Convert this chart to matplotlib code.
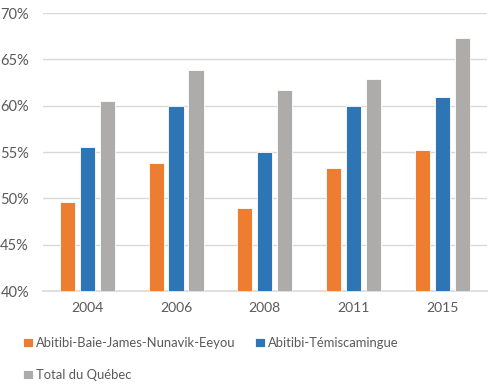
import matplotlib.pyplot as plt
import numpy as np
from matplotlib.ticker import PercentFormatter

years = ['2004', '2006', '2008', '2011', '2015']
abitibi_nunavik = [49.6, 53.8, 49.0, 53.3, 55.2]
abitibi_temis = [55.5, 60.0, 55.0, 60.0, 61.0]
total_quebec = [60.5, 63.9, 61.7, 62.9, 67.3]

series = [
    ('Abitibi-Baie-James-Nunavik-Eeyou', abitibi_nunavik, '#ED7D31'),
    ('Abitibi-Témiscamingue', abitibi_temis, '#2E75B6'),
    ('Total du Québec', total_quebec, '#AEABAB'),
]

plt.rcParams['font.family'] = ['Lato', 'DejaVu Sans']

fig = plt.figure(figsize=(5.04, 3.86), dpi=100)
ax = fig.add_axes([0.085, 0.246, 0.881, 0.72])

x = np.arange(len(years))
w = 0.17
step = 0.225
bars = []
for i, (name, vals, col) in enumerate(series):
    b = ax.bar(x + (i - 1) * step, vals, width=w, color=col, label=name,
               edgecolor='white', linewidth=0.6, zorder=3)
    bars.append(b)

ax.set_ylim(40, 70)
ax.set_xlim(-0.5, len(years) - 0.5)
ax.set_yticks(range(40, 71, 5))
ax.yaxis.set_major_formatter(PercentFormatter(decimals=0))
ax.set_xticks(x)
ax.set_xticklabels(years)
ax.grid(axis='y', color='#D9D9D9', linewidth=1, zorder=0)
for s in ['top', 'right', 'left']:
    ax.spines[s].set_visible(False)
ax.spines['bottom'].set_color('#D9D9D9')
ax.spines['bottom'].set_linewidth(1.2)
ax.tick_params(axis='x', length=0, labelsize=10, colors='#595959', pad=8)
ax.tick_params(axis='y', length=0, labelsize=10.5, colors='#595959', pad=10)

# row-wise legend order
order = [0, 2, 1]
fig.legend([bars[i] for i in order], [series[i][0] for i in order],
           loc='upper left', bbox_to_anchor=(0.036, 0.14), ncol=2,
           frameon=False, fontsize=9.4, labelcolor='#595959',
           handlelength=0.72, handleheight=0.72, handletextpad=0.25,
           columnspacing=1.5, labelspacing=1.5, borderaxespad=0)

fig.savefig('out.png', dpi=100)
